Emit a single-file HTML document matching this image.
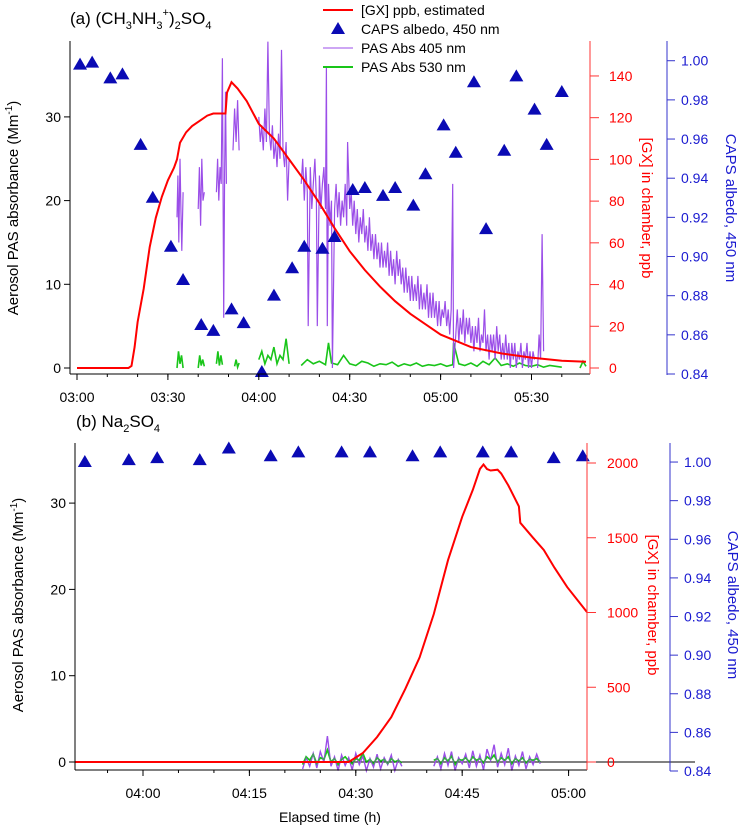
<!DOCTYPE html>
<html><head><meta charset="utf-8">
<style>
html,body{margin:0;padding:0;background:#fff;}
svg{display:block;font-family:"Liberation Sans Narrow","Liberation Sans",sans-serif;}
.tk{font-size:14px;}
</style></head>
<body>
<svg id="chart" width="741" height="830" viewBox="0 0 741 830" xmlns="http://www.w3.org/2000/svg"></svg>
<script>
// ===== Panel (a) data (minutes after 03:00) =====
const gxATime = [0,17,18,19,20,22,24,26,28,30,32,33,34,36,38,41,43,45,49,49.5,51,53,56,60,65,70,75,80,85,90,95,100,105,110,115,120,130,140,150,160,168];
const gxAPpb  = [0,0,1,10,22,38,58,72,82,90,96,100,108,113,116,119,121,122,122,132,137,134,128,117,110,100,90,79,67,56,47,39,32,26,21,16,10,7,5,3.5,3];
const capsATime = [1,5,11,15,21,25,31,35,41,45,51,55,61,65,71,75,81,85,91,95,101,105,111,115,121,125,131,135,141,145,151,155,160];
const capsAAlb  = [0.998,0.999,0.991,0.993,0.957,0.930,0.905,0.888,0.865,0.862,0.873,0.866,0.841,0.880,0.894,0.905,0.904,0.910,0.934,0.935,0.931,0.935,0.926,0.942,0.967,0.953,0.989,0.914,0.954,0.992,0.975,0.957,0.984];
const pas405ATime = [33,33.3,33.6,34,34.3,34.6,35,null,40,40.4,40.8,41.2,41.6,42,null,46,46.4,46.8,47.2,47.6,48,48.4,48.7,49,49.3,null,51.5,52,52.5,53,53.5,null,
 60,60.5,61,61.5,62,62.5,63,63.5,64,64.5,65,65.5,66,66.5,67,67.5,68,68.5,69,69.5,70,null,
 74,74.5,75,75.5,76,76.3,77,77.5,78,78.5,79,79.3,80,80.5,81,81.5,82,82.3,82.6,83,83.5,84,84.3,85,85.5,86,86.5,87,87.5,88,88.5,89,89.3,90,90.5,91,91.5,92,92.5,93,93.5,94,94.5,95,95.5,96,96.5,97,97.5,98,98.5,99,99.5,100,100.5,101,101.5,102,102.5,103,103.5,104,104.5,105,105.5,106,106.5,107,107.5,108,108.5,109,109.5,110,110.5,111,111.5,112,112.5,113,113.5,114,114.5,115,115.5,116,116.5,117,117.5,118,118.5,119,119.5,120,120.5,121,121.5,122,122.5,123,123.5,124,124.3,125,125.5,126,126.5,127,127.5,128,128.5,129,129.5,130,130.5,131,131.5,132,132.5,133,133.5,134,134.5,135,135.5,136,136.5,137,137.5,138,138.5,139,139.5,140,140.5,141,141.5,142,142.5,143,143.5,144,144.5,145,145.5,146,146.5,147,147.5,148,148.5,149,149.5,150,150.5,151,151.5,152,152.5,153,153.5,154,154.5,155,null,
 166,166.5,167,167.5,168];
const pas405AVal = [18,23,15,25,19,14,21,null,19,24,17,25,20,21,null,21,25,20,24,22,37,6,23,33,22,null,26,31,27,32,26,null,
 30,27,29,26,31,27,39,28,26,29,25,27,24,28,25,38,26,24,27,20,25,null,
 22,25,20,24,21,5,24,19,22,25,20,5,23,19,22,24,19,36,5,22,17,20,0,19,22,18,21,17,20,18,22,17,27,19,21,17,20,16,19,15,18,16,19,15,17,14,18,14,16,13,16,13,15,12,15,12,14,12,15,11,14,11,13,10,14,11,13,10,12,9,12,9,11,8,11,8,10,8,11,7,10,7,9,7,10,6,9,6,9,6,8,5,8,5,7,6,8,5,7,4,7,22,0,4,7,3,6,4,7,3,6,4,6,3,5,2,5,3,6,2,4,3,7,2,4,1,4,2,4,1,5,2,4,1,3,1,4,1,3,0,3,1,3,0,2,1,3,0,2,1,3,0,2,0,2,1,null,
 0,4,1,16,2];
const pas530ATime = [33,33.5,34,34.5,35,null,40,40.5,41,41.5,42,null,46,46.5,47,47.5,48,null,52,52.5,53,53.5,null,
 60,61,62,63,64,65,66,67,68,69,70,null,
 74,76,78,80,82,83,84,86,88,90,92,94,96,98,100,102,104,106,108,110,112,114,116,118,120,122,124,124.3,126,128,130,132,134,136,138,140,142,144,146,148,150,152,154,156,158,160,null,166,167,168];
const pas530AVal = [0,2,0.5,1.5,0,null,0,1.5,0.3,1,0.2,null,0.5,2,0.3,1.5,0.4,null,0.2,1,0.1,0.6,null,
 1,2,0.5,1.5,1,2.5,0.5,1.5,1,3.5,0.5,null,
 0.3,1,0.5,0.8,0.4,3,0.6,0.4,1.5,0.5,0.3,0.8,0.6,0.2,0.5,0.4,0.7,0.2,0.5,0.3,0.6,0.2,0.4,0.3,0.5,0.2,0.4,3,0.5,0.3,0.6,0.2,0.8,0.4,1.2,0.3,0.5,0.2,0.6,0.3,0.2,0.4,0.1,0.3,0.2,0.1,null,0,0.8,0.2];
const xTicksA = ["03:00","03:30","04:00","04:30","05:00","05:30"];
const yTicksA = [0,10,20,30];
const rTicksA = [0,20,40,60,80,100,120,140];
const bTicks = [0.84,0.86,0.88,0.90,0.92,0.94,0.96,0.98,1.00];

// ===== Panel (b) data (minutes after 04:00) =====
const gxBTime = [-9.6,29,31,33,35,37,39,41,43,45,46.5,47.5,48,48.5,49,50,50.5,51.5,53,53.2,55,56.5,58,59.8,62.6];
const gxBPpb  = [0,0,60,167,300,490,700,990,1350,1640,1820,1960,1990,1960,1950,1955,1930,1850,1710,1600,1500,1418,1300,1170,1003];
const capsBTime = [-8.2,-2,2,8,12.1,18,21.9,28,32,38,41.9,47.9,51.9,57.9,62];
const capsBAlb  = [1.000,1.001,1.002,1.001,1.007,1.003,1.005,1.005,1.005,1.003,1.005,1.005,1.005,1.002,1.003];
const pasBTime = [22.5,23,23.5,24,24.5,25,25.5,26,26.5,27,27.5,28,28.5,29,29.5,30,30.5,31,31.5,32,32.5,33,33.5,34,34.5,35,35.5,36,36.5,null,
 41,41.5,42,42.5,43,43.5,44,44.5,45,45.5,46,46.5,47,47.5,48,48.5,49,49.5,50,50.5,51,51.5,52,52.5,53,53.5,54,54.5,55,55.5,56];
const pas405BVal = [-0.8,0.5,-0.5,1,-0.7,1.2,0,3,-0.5,0.6,-1,0.8,-0.4,0.5,-0.9,1,-0.3,0.7,-1,0.4,-0.6,0.9,-0.8,0.5,-0.3,0.8,-1,0.3,-0.5,null,
 -0.5,0.6,-0.8,1,-0.4,1.2,-1,0.5,-0.2,0.9,-0.7,1.3,-0.5,0.8,-0.9,1.5,0.2,2,-0.6,1,-0.3,1.6,-1,0.7,-0.4,1.2,-0.8,0.6,-0.3,0.9,-0.2];
const pas530BVal = [-0.3,0.6,0.2,0.9,-0.2,0.5,0.3,1.4,0,0.4,-0.3,0.3,0.6,0.1,-0.2,0.4,0.2,1,0,0.3,-0.2,0.5,0.1,0.3,-0.2,0.4,0,0.2,-0.1,null,
 0.2,0.4,-0.2,0.5,0.1,0.7,-0.3,0.3,0.2,0.5,0,0.6,0.2,0.4,-0.1,0.6,0.3,0.8,0,0.5,0.2,0.6,-0.2,0.4,0.1,0.5,-0.1,0.3,0.2,0.4,0];
const xTicksB = ["04:00","04:15","04:30","04:45","05:00"];
const yTicksB = [0,10,20,30];
const rTicksB = [0,500,1000,1500,2000];

// ===== scales =====
const xA = m => 77 + m*3.03;
const yA = v => 368 - v*8.37;
const yRa = p => 368 - p*2.086;
const yBa = a => 374 - (a-0.84)*1958;
const xB = m => 143 + m*7.093;
const yB = v => 762 - v*8.63;
const yRb = p => 762 - p*0.1495;
const yBb = a => 771 - (a-0.84)*1931;

const NS = "http://www.w3.org/2000/svg";
const svg = document.getElementById('chart');
function mk(tag, attrs, parent){
  const e = document.createElementNS(NS, tag);
  for (const k in attrs) e.setAttribute(k, attrs[k]);
  (parent||svg).appendChild(e);
  return e;
}
function lineD(ts, vs, fx, fy){
  let d = "", pen = false;
  for (let i=0;i<ts.length;i++){
    if (ts[i]===null || vs[i]===null){ pen=false; continue; }
    d += (pen?"L":"M") + fx(ts[i]).toFixed(1) + "," + fy(vs[i]).toFixed(1);
    pen = true;
  }
  return d;
}
function tri(g, cx, cy){
  return mk('polygon',{points:`${cx},${cy-7} ${cx-7},${cy+5} ${cx+7},${cy+5}`, fill:'#0a0ab4'}, g);
}
function minLabel(s){ const [h,m]=s.split(':').map(Number); return h*60+m; }

function panel(P){
  const g = mk('g',{});
  
  
  const p5 = mk('path',{d:lineD(P.pasT,P.p530,P.x,P.y),fill:'none',stroke:'#19c519','stroke-width':1.6},g);
  
  
  if (P.zero){
    const z = mk('line',{x1:P.L,x2:695,y1:P.y(0),y2:P.y(0),stroke:'#000','stroke-width':1},g);
    
    
  }
  const p4 = mk('path',{d:lineD(P.pasT4,P.p405,P.x,P.y),fill:'none',stroke:'#9b4ee8','stroke-width':P.pw},g);
  
  
  if (P.overlay530){ mk('path',{d:lineD(P.pasT,P.p530,P.x,P.y),fill:'none',stroke:'#19c519','stroke-width':1.6,opacity:0.6},g); }
  const r = mk('path',{d:lineD(P.gxT,P.gxV,P.x,P.yr),fill:'none',stroke:'#f00','stroke-width':2},g);
  
  
  for (let i=0;i<P.cT.length;i++){
    const t = tri(g, P.x(P.cT[i]), P.yb(P.cV[i]));
    
    
  }
  const ax = mk('g',{},g);
  
  
  mk('line',{x1:P.L,x2:P.L,y1:P.T,y2:P.B,stroke:'#000'},ax);
  mk('line',{x1:P.L,x2:P.R,y1:P.B,y2:P.B,stroke:'#000'},ax);
  mk('line',{x1:P.R,x2:P.R,y1:P.T,y2:P.B,stroke:'#f33'},ax);
  mk('line',{x1:P.BL,x2:P.BL,y1:P.T,y2:P.B+1,stroke:'#33c'},ax);
  P.yT.forEach(v=>{
    const yy=P.y(v);
    mk('line',{x1:P.L-6,x2:P.L,y1:yy,y2:yy,stroke:'#000'},ax);
    const t=mk('text',{x:P.L-9,y:yy+5,'text-anchor':'end',class:'tk',fill:'#000'},ax); t.textContent=v;
  });
  P.rT.forEach(v=>{
    const yy=P.yr(v);
    mk('line',{x1:P.R,x2:P.R+9,y1:yy,y2:yy,stroke:'#f33'},ax);
    const t=mk('text',{x:P.R+P.rOff,y:yy+5,class:'tk',fill:'#f00'},ax); t.textContent=v;
  });
  bTicks.forEach(v=>{
    const yy=P.yb(v);
    mk('line',{x1:P.BL,x2:P.BL+8,y1:yy,y2:yy,stroke:'#33c'},ax);
    const t=mk('text',{x:P.BL+14,y:yy+5,class:'tk',fill:'#1a1ad0'},ax); t.textContent=v.toFixed(2);
  });
  P.xT.forEach(s=>{
    const xx=P.x(minLabel(s)-P.t0);
    mk('line',{x1:xx,x2:xx,y1:P.B,y2:P.B+6,stroke:'#000'},ax);
    const t=mk('text',{x:xx,y:P.B+28,'text-anchor':'middle',class:'tk',fill:'#000'},ax); t.textContent=s;
  });
  for (let m=P.minorFrom; P.x(m)<P.R; m+=P.minorStep){
    const xx=P.x(m); if (xx<P.L) continue;
    mk('line',{x1:xx,x2:xx,y1:P.B,y2:P.B+3,stroke:'#000'},ax);
  }
  const lt=mk('text',{x:0,y:0,transform:`translate(${P.L-52},${P.ty}) rotate(-90)`,'text-anchor':'middle','font-size':15,fill:'#000'},g);
   
  lt.innerHTML='Aerosol PAS absorbance (Mm<tspan dy="-6" font-size="10">-1</tspan><tspan dy="6">)</tspan>';
  const rt=mk('text',{x:0,y:0,transform:`translate(${P.rTitleX},${P.ty}) rotate(90)`,'text-anchor':'middle','font-size':15,fill:'#f00'},g);
   
  rt.textContent='[GX] in chamber, ppb';
  const bt=mk('text',{x:0,y:0,transform:`translate(${P.bTitleX},${P.ty}) rotate(90)`,'text-anchor':'middle','font-size':15,fill:'#1a1ad0'},g);
   
  bt.textContent='CAPS albedo, 450 nm';
}

panel({name:'panel-a', x:xA, y:yA, yr:yRa, yb:yBa, L:70, R:590, BL:667, T:41, B:374, t0:180, pw:1.2,
  pasT:pas530ATime, p530:pas530AVal, pasT4:pas405ATime, p405:pas405AVal,
  gxT:gxATime, gxV:gxAPpb, cT:capsATime, cV:capsAAlb,
  yT:yTicksA, rT:rTicksA, xT:xTicksA, rOff:19, minorFrom:0, minorStep:10,
  ty:208, rTitleX:642, bTitleX:726});
panel({name:'panel-b', x:xB, y:yB, yr:yRb, yb:yBb, L:75, R:587, BL:670, T:443, B:770, t0:240, zero:true, overlay530:true, pw:1.4,
  pasT:pasBTime, p530:pas530BVal, pasT4:pasBTime, p405:pas405BVal,
  gxT:gxBTime, gxV:gxBPpb, cT:capsBTime, cV:capsBAlb,
  yT:yTicksB, rT:rTicksB, xT:xTicksB, rOff:20, minorFrom:-5, minorStep:5,
  ty:605, rTitleX:648, bTitleX:728});

const ta = mk('text',{x:70,y:24,'font-size':17,fill:'#000'});
 
ta.innerHTML='(a)  (CH<tspan dy="5" font-size="11">3</tspan><tspan dy="-5">NH</tspan><tspan dy="5" font-size="11">3</tspan><tspan dy="-13" font-size="11">+</tspan><tspan dy="8">)</tspan><tspan dy="5" font-size="11">2</tspan><tspan dy="-5">SO</tspan><tspan dy="5" font-size="11">4</tspan>';
const tb = mk('text',{x:76,y:427,'font-size':17,fill:'#000'});
 
tb.innerHTML='(b)  Na<tspan dy="5" font-size="11">2</tspan><tspan dy="-5">SO</tspan><tspan dy="5" font-size="11">4</tspan>';
const xt = mk('text',{x:330,y:822,'text-anchor':'middle','font-size':14,fill:'#000'});
 
xt.textContent='Elapsed time (h)';

const leg = mk('g',{});
 
const legItems=[['line','#f00','[GX] ppb, estimated',2],['tri','#0a0ab4','CAPS albedo, 450 nm',0],['line','#9b4ee8','PAS Abs 405 nm',1],['line','#19c519','PAS Abs 530 nm',2]];
legItems.forEach((it,i)=>{
  const yy=10+i*19;
  const e = mk('g',{},leg);
   
  if(it[0]==='line') mk('line',{x1:323,x2:353,y1:yy,y2:yy,stroke:it[1],'stroke-width':it[3]},e);
  else tri(e,338,yy);
  const t=mk('text',{x:361,y:yy+5,'font-size':14,fill:'#000'},e); t.textContent=it[2];
});
</script>
</body></html>
